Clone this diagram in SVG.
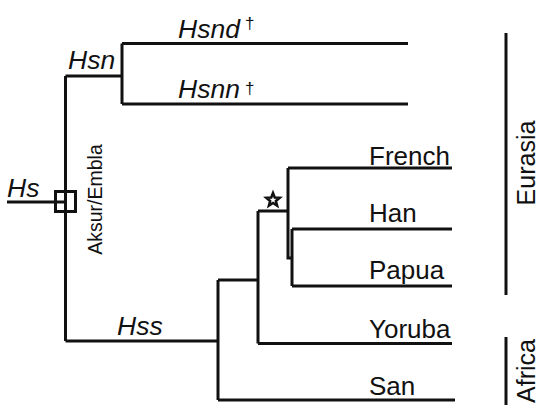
<svg xmlns="http://www.w3.org/2000/svg" width="540" height="405" viewBox="0 0 540 405">
<style>
.ln{stroke:#111;stroke-width:3;fill:none;stroke-linecap:butt}
text{font-family:"Liberation Sans",Arial,sans-serif;fill:#111}
.lab{font-size:26px}
.rl{font-size:25px}
.it{font-size:26.5px;font-style:italic}
.dag{font-size:17px;fill:#111}
.sm{font-size:19.5px}
</style>
<rect width="540" height="405" fill="#fff"/>
<g id="connectors">
<path class="ln" d="M7,202H65.5"/>
<path class="ln" d="M65.5,76V341"/>
<path class="ln" d="M65.5,76H122"/>
<path class="ln" d="M122,43.5V104"/>
<path class="ln" d="M122,43.5H408"/>
<path class="ln" d="M122,104H408"/>
<path class="ln" d="M65.5,341H218"/>
<path class="ln" d="M218,280V400"/>
<path class="ln" d="M218,400H455"/>
<path class="ln" d="M218,280H258"/>
<path class="ln" d="M258,211V343.5"/>
<path class="ln" d="M258,343.5H452"/>
<path class="ln" d="M258,211H288"/>
<path class="ln" d="M288,168V258H292"/>
<path class="ln" d="M288,168H452"/>
<path class="ln" d="M292,229V286"/>
<path class="ln" d="M292,229H452"/>
<path class="ln" d="M292,286H452"/>
</g>
<g id="node-Hs"><text class="it" x="7" y="197">Hs</text></g>
<g id="node-split"><rect class="ln" x="55.5" y="191.5" width="20" height="20"/>
<text class="sm" transform="translate(102,199.5) rotate(-90)" text-anchor="middle">Aksur/Embla</text></g>
<g id="node-Hsn"><text class="it" x="68" y="69">Hsn</text></g>
<g id="node-Hsnd"><text class="it" x="178" y="38">Hsnd</text><text class="dag" x="245" y="29">†</text></g>
<g id="node-Hsnn"><text class="it" x="178" y="98">Hsnn</text><text class="dag" x="245" y="94">†</text></g>
<g id="node-Hss"><text class="it" x="117" y="335">Hss</text></g>
<g id="node-star"><polygon points="273,193 274.76,197.57 279.66,197.84 275.85,200.93 277.11,205.66 273,203 268.89,205.66 270.15,200.93 266.34,197.84 271.24,197.57" fill="#fff" stroke="#111" stroke-width="2.5" stroke-linejoin="miter"/></g>
<g id="node-French"><text class="lab" x="369" y="165">French</text></g>
<g id="node-Han"><text class="lab" x="369" y="222">Han</text></g>
<g id="node-Papua"><text class="lab" x="369" y="279">Papua</text></g>
<g id="node-Yoruba"><text class="lab" x="369" y="338">Yoruba</text></g>
<g id="node-San"><text class="lab" x="369" y="395">San</text></g>
<g id="group-Eurasia"><path class="ln" d="M506,33V295"/>
<text class="rl" transform="translate(535,163) rotate(-90)" text-anchor="middle">Eurasia</text></g>
<g id="group-Africa"><path class="ln" d="M506,337V405"/>
<text class="rl" transform="translate(535,371) rotate(-90)" text-anchor="middle">Africa</text></g>
</svg>
